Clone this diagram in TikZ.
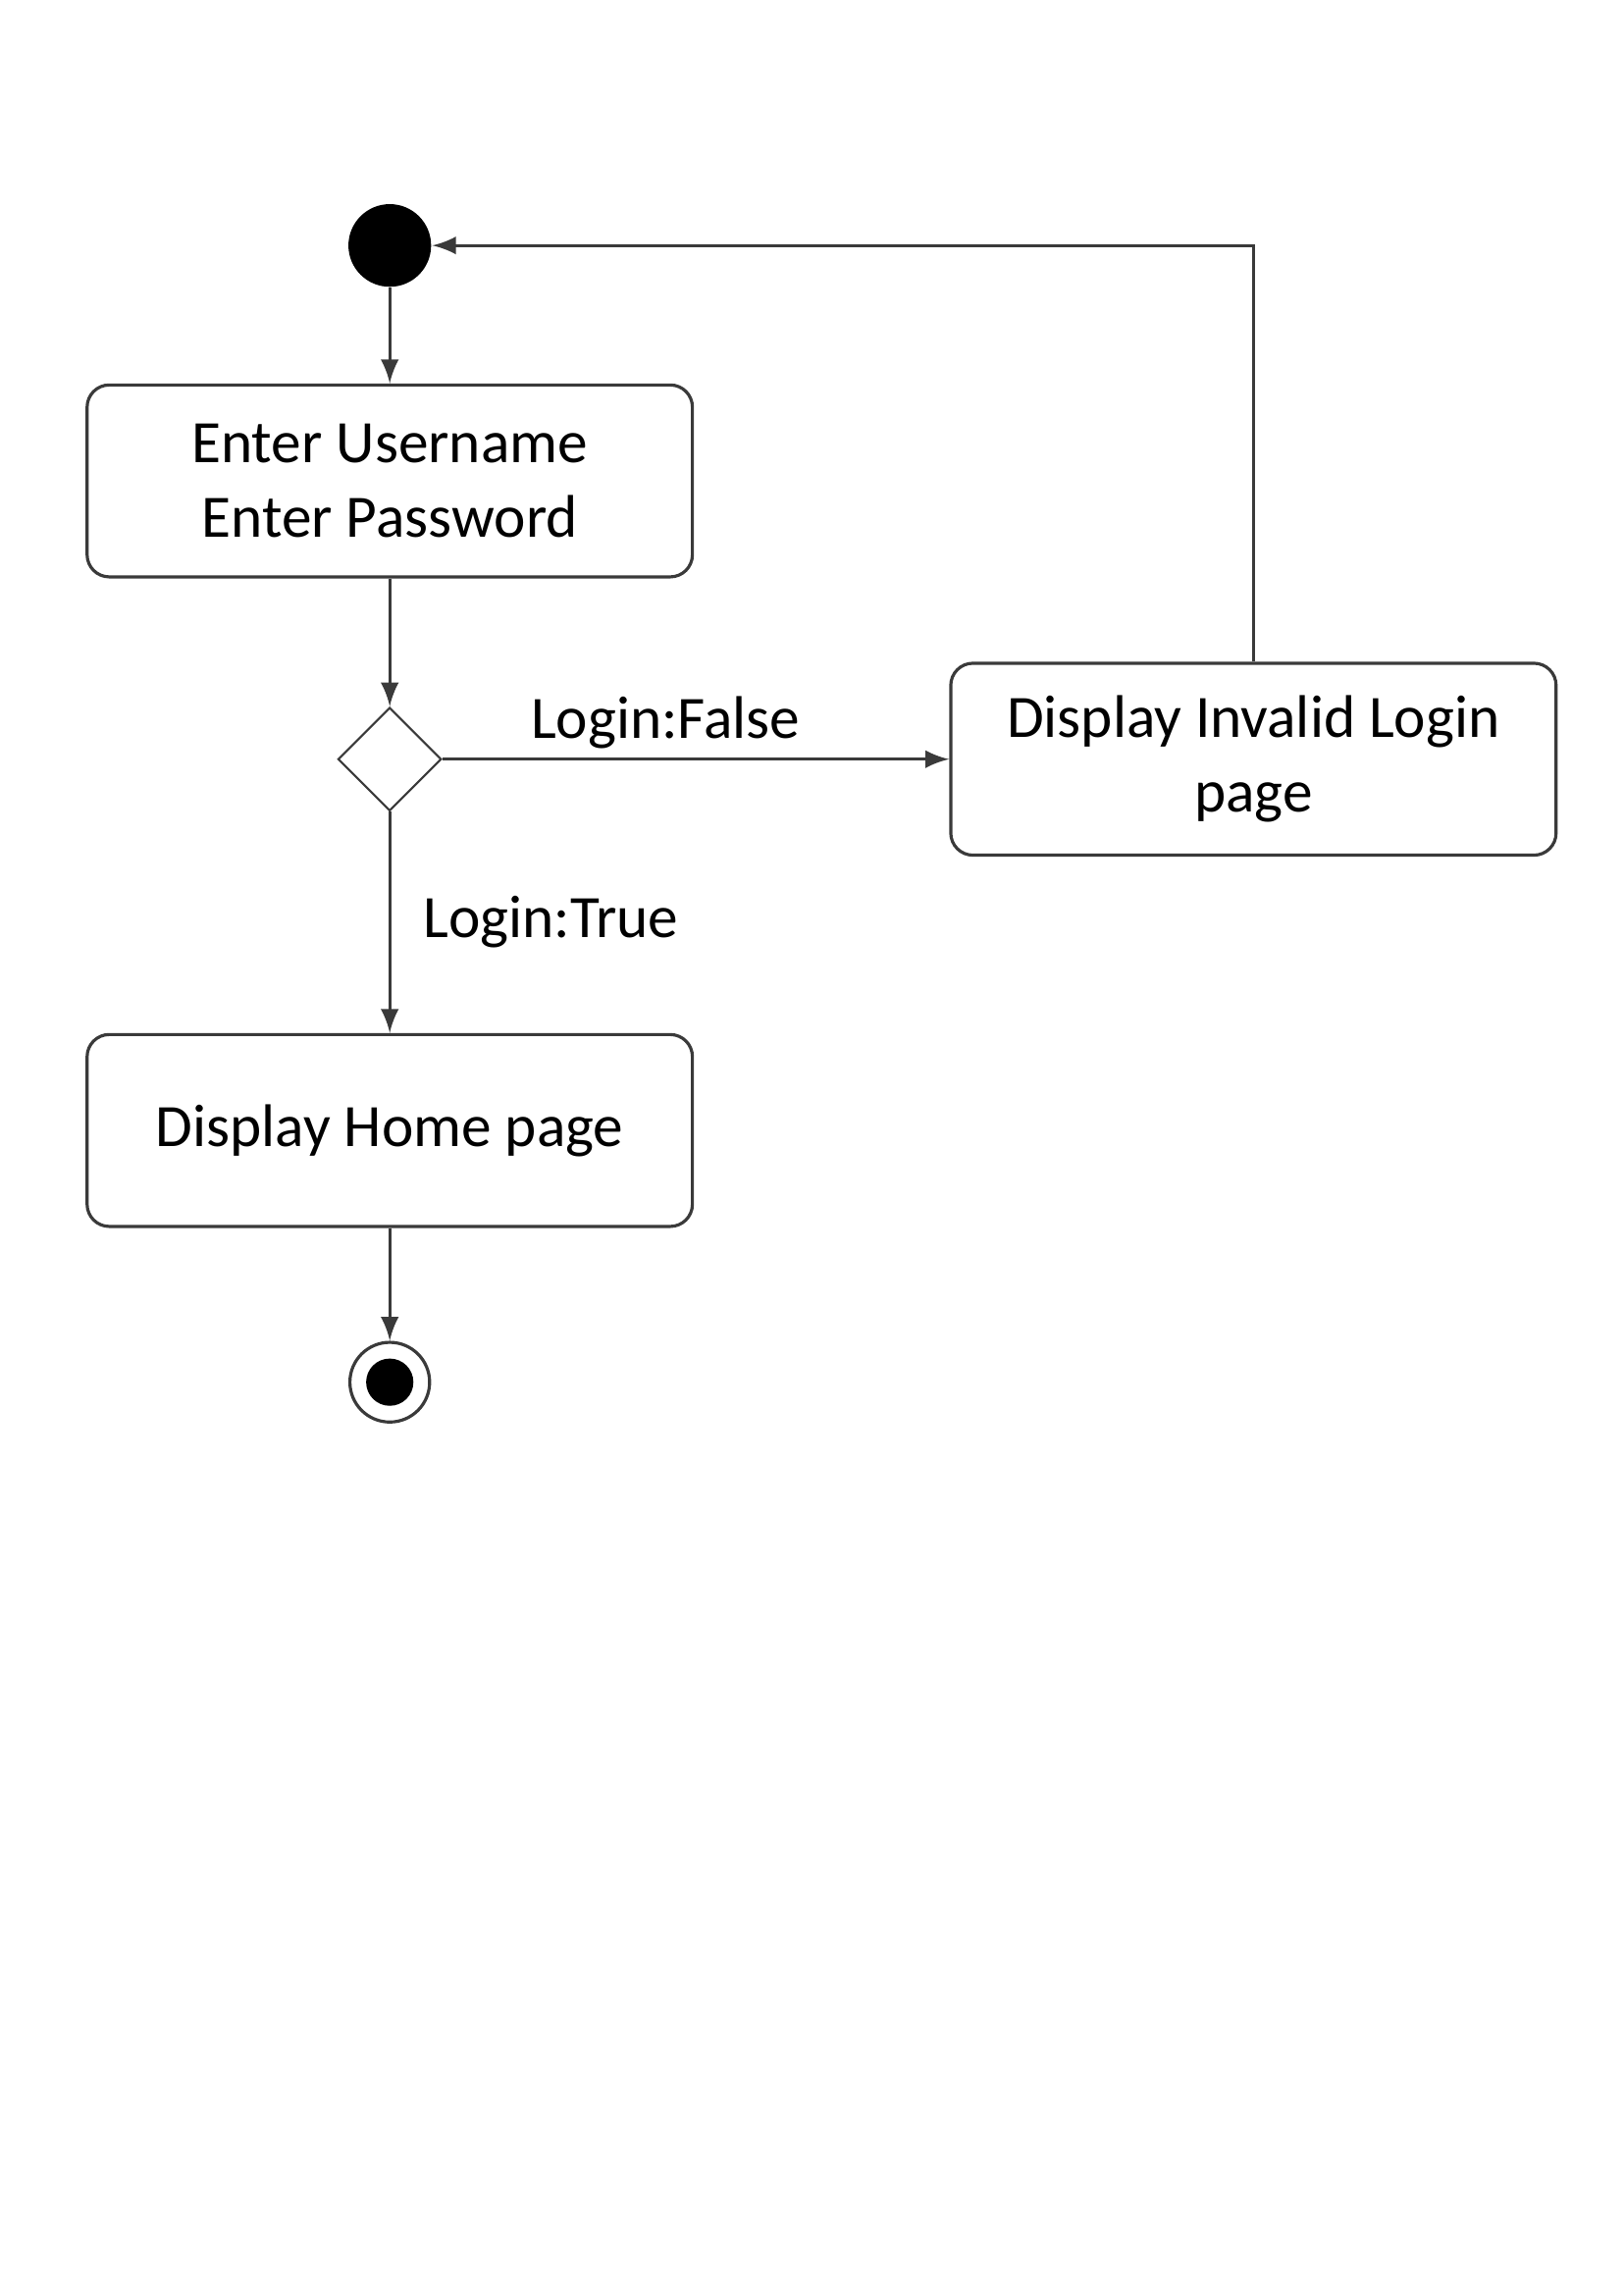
\documentclass[tikz,border=0pt]{standalone}
\usepackage{fontspec}
\setmainfont{Carlito}
\usetikzlibrary{arrows, shapes.geometric, calc}
\definecolor{linegray}{HTML}{3A3A3A}

\begin{document}
\begin{tikzpicture}[
    action/.style={draw=linegray, line width=0.6pt, rounded corners=0.15cm,
                   minimum width=4.1cm, minimum height=1.3cm, align=center,
                   font=\fontsize{11.6}{14.3}\selectfont},
    flow/.style={draw=linegray, line width=0.6pt, -latex},
    guard/.style={font=\fontsize{11.6}{14.3}\selectfont},
    startdot/.style={circle, fill=black, minimum size=0.56cm, inner sep=0},
    stopring/.style={circle, draw=linegray, line width=0.6pt, minimum size=0.54cm, inner sep=0},
    stopdot/.style={circle, fill=black, minimum size=0.32cm, inner sep=0},
    decision/.style={diamond, draw=linegray, line width=0.4pt, minimum width=0.7cm,
                     minimum height=0.7cm, inner sep=0}
  ]
  \useasboundingbox (0, 0) rectangle (11, 15.553);

  \node[startdot] (start) at (2.64, 13.89) {};
  \node[action] (enter) at (2.64, 12.295) {Enter Username\\Enter Password};
  \node[decision] (check) at (2.64, 10.41) {};
  \node[action] (invalid) at (8.49, 10.41) {Display Invalid Login\\page};
  \node[action] (home) at (2.64, 7.895) {Display Home page};
  \node[stopring] (stop) at (2.64, 6.19) {};
  \node[stopdot] (stopin) at (stop) {};

  %% main flow
  \draw[flow] (start) -- (enter);
  \draw[flow] (enter) -- (check);
  \draw[flow] (check) -- node[guard, above, pos=0.44, inner sep=0.06cm]{Login:False} (invalid);
  \draw[flow] (check) -- node[guard, right, pos=0.5, xshift=0.1cm]{Login:True} (home);
  \draw[flow] (home) -- (stop);

  %% back to start
  \draw[flow] (invalid) |- (start);
\end{tikzpicture}
\end{document}
